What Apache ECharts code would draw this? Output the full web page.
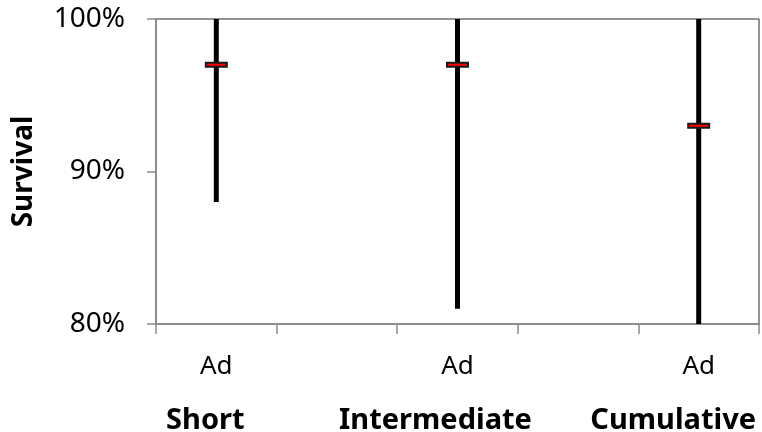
<!DOCTYPE html>
<html>
<head>
<meta charset="utf-8">
<script src="https://cdn.jsdelivr.net/npm/echarts@6/dist/echarts.min.js"></script>
<style>
html,body{margin:0;padding:0;background:#fff;}
#chart{width:762px;height:432px;}
</style>
</head>
<body>
<div id="chart"></div>
<script>
// Data
var slotLabels = ['Ad', '', 'Ad', '', 'Ad'];
var groupLabels = ['Short', '', 'Intermediate', '', 'Cumulative'];
var slotIndex = [0, 2, 4];
var means = [97, 97, 93];
var lows = [88, 81, 80];
var highs = [100, 100, 100];
var yTicks = [80, 90, 100];

var FONT = '"Noto Sans", "Open Sans", sans-serif';

// label centre shifts (px) of group captions relative to slot centres
var groupPad = [22, 0, 44, 0, 51];

var seriesData = slotIndex.map(function (s, i) {
  return [s, lows[i], highs[i], means[i]];
});

var groupData = groupLabels.map(function (g, i) {
  return {value: g, textStyle: {padding: [0, groupPad[i], 0, 0]}};
});

var chart = echarts.init(document.getElementById('chart'), null, {renderer: 'canvas'});
chart.setOption({
  animation: false,
  backgroundColor: '#fff',
  grid: {
    left: 156, right: 3, top: 19, bottom: 108,
    containLabel: false,
    outerBoundsMode: 'none',
    show: true, borderColor: '#262626', borderWidth: 1, backgroundColor: 'transparent'
  },
  xAxis: [{
    type: 'category',
    data: slotLabels,
    position: 'bottom',
    boundaryGap: true,
    axisLine: {show: true, lineStyle: {color: '#8c8c8c', width: 1.5}},
    axisTick: {show: true, interval: 0, length: 10, lineStyle: {color: '#8c8c8c', width: 1.5}},
    axisLabel: {interval: 0, margin: 30, fontSize: 26, color: '#000', fontFamily: FONT},
    splitLine: {show: false}
  }, {
    type: 'category',
    data: groupData,
    position: 'bottom',
    offset: 0,
    boundaryGap: true,
    axisLine: {show: false},
    axisTick: {show: false},
    axisLabel: {interval: 0, margin: 82, fontSize: 29, fontWeight: 'bold', color: '#000', fontFamily: FONT, hideOverlap: false},
    splitLine: {show: false}
  }],
  yAxis: {
    type: 'value',
    min: yTicks[0],
    max: yTicks[yTicks.length - 1],
    interval: 10,
    name: 'Survival',
    nameLocation: 'middle',
    nameRotate: 90,
    nameGap: 118,
    nameTextStyle: {fontSize: 28, fontWeight: 'bold', color: '#000', fontFamily: FONT},
    axisLine: {show: true, lineStyle: {color: '#8c8c8c', width: 1.5}},
    axisTick: {show: true, length: 9, lineStyle: {color: '#8c8c8c', width: 1.5}},
    axisLabel: {margin: 31, fontSize: 28, color: '#000', fontFamily: FONT, formatter: '{value}%'},
    splitLine: {show: false}
  },
  series: [{
    type: 'custom',
    xAxisIndex: 0,
    data: seriesData,
    clip: false,
    renderItem: function (params, api) {
      var x = api.value(0);
      var pLow = api.coord([x, api.value(1)]);
      var pHigh = api.coord([x, api.value(2)]);
      var pMean = api.coord([x, api.value(3)]);
      return {
        type: 'group',
        children: [{
          type: 'line',
          shape: {x1: pLow[0], y1: pLow[1], x2: pHigh[0], y2: pHigh[1]},
          style: {stroke: '#000', lineWidth: 5}
        }, {
          type: 'rect',
          shape: {x: pMean[0] - 10.5, y: pMean[1] - 2, width: 21, height: 4},
          style: {fill: '#ff0000', stroke: '#1a1a1a', lineWidth: 2}
        }]
      };
    }
  }]
});
</script>
</body>
</html>
